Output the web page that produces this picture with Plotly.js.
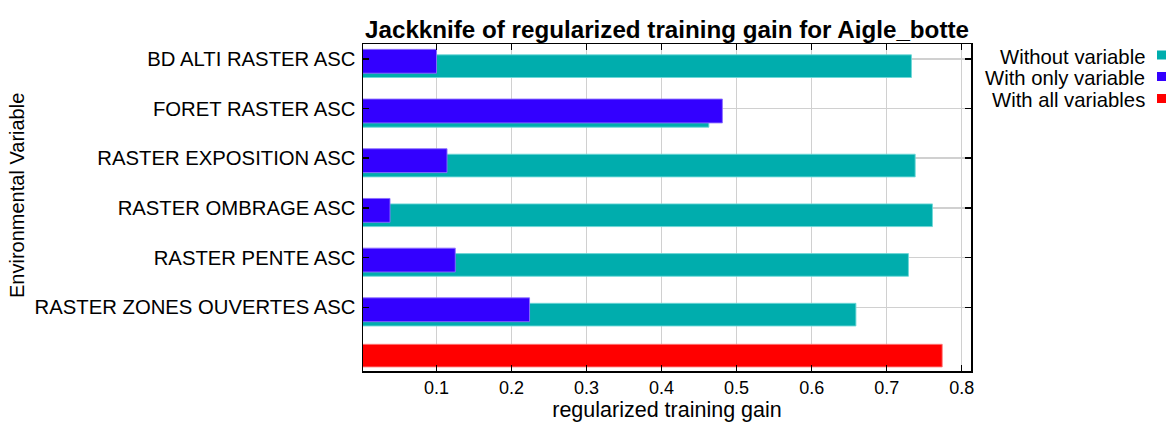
<!DOCTYPE html>
<html>
<head>
<meta charset="utf-8">
<script src="https://cdn.plot.ly/plotly-3.0.1.min.js"></script>
<style>
  html, body { margin: 0; padding: 0; background: #ffffff; }
  #chart { width: 1169px; height: 424px; }
</style>
</head>
<body>
<div id="chart"></div>
<script>
// Jackknife results for each environmental variable (top to bottom)
const variables = [
  'BD ALTI RASTER ASC',
  'FORET RASTER ASC',
  'RASTER EXPOSITION ASC',
  'RASTER OMBRAGE ASC',
  'RASTER PENTE ASC',
  'RASTER ZONES OUVERTES ASC'
];
const withoutVariable = [0.733, 0.463, 0.738, 0.761, 0.729, 0.659];
const withOnlyVariable = [0.100, 0.481, 0.114, 0.038, 0.125, 0.224];
const withAllVariables = 0.774;

const seriesNames = ['Without variable', 'With only variable', 'With all variables'];
const seriesColors = ['#00adad', '#3300ff', '#ff0000'];
const edgeColors = ['rgba(110,215,215,0.9)', 'rgba(140,110,255,0.9)', 'rgba(255,120,120,0.9)'];

const xTicks = [0.1, 0.2, 0.3, 0.4, 0.5, 0.6, 0.7, 0.8];

// numeric row positions: first variable on top, the full model in row 0
const rowPos = variables.map((_, i) => variables.length - i);

const FONT = 'Liberation Sans, Arial, Helvetica, sans-serif';

const traces = [
  {
    type: 'bar', orientation: 'h', name: seriesNames[0],
    y: rowPos, x: withoutVariable,
    width: 0.456, offset: -0.376,
    marker: { color: seriesColors[0], line: { color: edgeColors[0], width: 1 } },
    hoverinfo: 'x'
  },
  {
    type: 'bar', orientation: 'h', name: seriesNames[1],
    y: rowPos, x: withOnlyVariable,
    width: 0.48, offset: -0.29,
    marker: { color: seriesColors[1], line: { color: edgeColors[1], width: 1 } },
    hoverinfo: 'x'
  },
  {
    type: 'bar', orientation: 'h', name: seriesNames[2],
    y: [0], x: [withAllVariables],
    width: 0.455, offset: -0.2,
    marker: { color: seriesColors[2], line: { color: edgeColors[2], width: 1 } },
    hoverinfo: 'x'
  }
];

// legend drawn on the right: label first, colour swatch after it
const legendY = [57, 78, 100];
const annotations = seriesNames.map((name, i) => ({
  xref: 'paper', yref: 'paper',
  x: (1147 - 363) / (971 - 363), y: 1 - (legendY[i] - 44) / (371 - 44),
  xanchor: 'right', yanchor: 'middle',
  text: name, showarrow: false,
  font: { family: FONT, size: 20.3, color: '#000000' }
}));
annotations.push({
  xref: 'paper', yref: 'paper',
  x: (17 - 363) / (971 - 363), y: 1 - (196 - 44) / (371 - 44),
  xanchor: 'center', yanchor: 'middle', textangle: -90,
  text: 'Environmental Variable', showarrow: false,
  font: { family: FONT, size: 20, color: '#000000' }
});

const swatchY = [55, 76.5, 98.5];
const shapes = seriesColors.map((c, i) => ({
  type: 'rect', xref: 'paper', yref: 'paper',
  x0: (1157 - 363) / (971 - 363), x1: (1166 - 363) / (971 - 363),
  y0: 1 - (swatchY[i] - 4.5 - 44) / (371 - 44), y1: 1 - (swatchY[i] + 4.5 - 44) / (371 - 44),
  fillcolor: c, line: { width: 0 }
}));

const layout = {
  width: 1169, height: 424,
  margin: { l: 363, r: 198, t: 44, b: 53 },
  paper_bgcolor: '#ffffff', plot_bgcolor: '#ffffff',
  barmode: 'overlay',
  showlegend: false,
  font: { family: FONT, color: '#000000' },
  title: {
    text: '<b>Jackknife of regularized training gain for Aigle_botte</b>',
    font: { family: FONT, size: 24.2, color: '#000000' },
    x: 667 / 1169, xanchor: 'center', xref: 'container',
    y: 1 - 30 / 424, yanchor: 'middle', yref: 'container'
  },
  xaxis: {
    range: [0.002, 0.8124],
    tickvals: xTicks, ticktext: xTicks.map(v => v.toFixed(1)),
    ticks: 'inside', ticklen: 6, tickwidth: 1.5, tickcolor: '#000000',
    showline: true, linecolor: '#000000', linewidth: 1.5, mirror: 'allticks',
    showgrid: true, gridcolor: '#d0d0d0', gridwidth: 1.5,
    zeroline: false,
    tickfont: { family: FONT, size: 18, color: '#000000' },
    title: { text: 'regularized training gain', font: { family: FONT, size: 21.5, color: '#000000' }, standoff: 3 }
  },
  yaxis: {
    range: [-0.282, 6.298],
    tickvals: rowPos, ticktext: variables,
    ticks: 'inside', ticklen: 6, tickwidth: 1.5, tickcolor: '#000000',
    showline: true, linecolor: '#000000', linewidth: 1.5, mirror: 'allticks',
    showgrid: true, gridcolor: '#d0d0d0', gridwidth: 1.5,
    zeroline: false,
    ticklabelstandoff: 2,
    tickfont: { family: FONT, size: 20.3, color: '#000000' }
  },
  annotations: annotations,
  shapes: shapes
};

Plotly.newPlot('chart', traces, layout, { displayModeBar: false, staticPlot: true });
</script>
</body>
</html>
